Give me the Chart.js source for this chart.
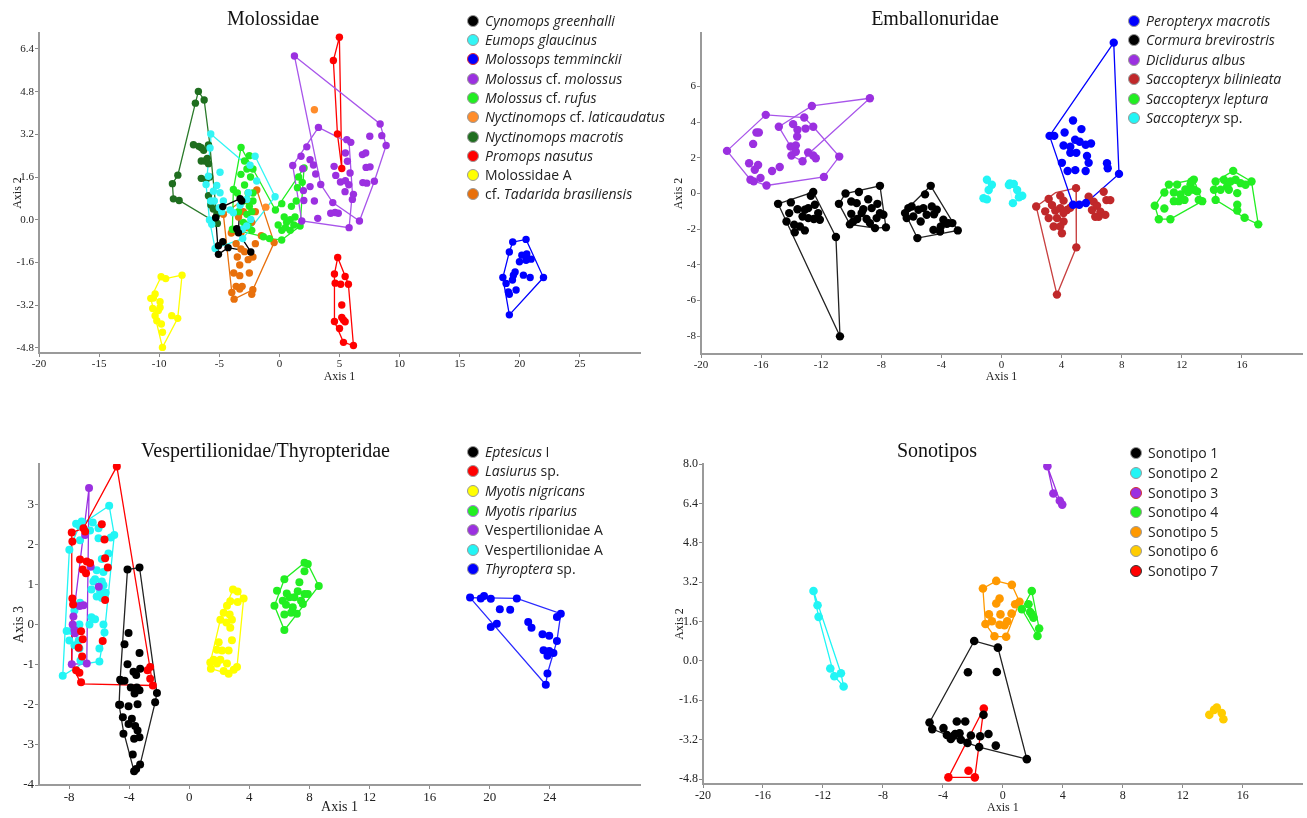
<!DOCTYPE html>
<html>
<head>
<meta charset="utf-8">
<script src="https://cdn.jsdelivr.net/npm/chart.js@4.4.0/dist/chart.umd.min.js"></script>
<style>
  body { margin: 0; background: #fff; width: 1307px; height: 818px; position: relative; overflow: hidden; }
  .ttl { position: absolute; font-family: "Liberation Serif", serif; font-size: 20px; line-height: 20px; white-space: nowrap; transform: translateX(-50%); color: #111; }
  .row { position: absolute; font-family: "Open Sans", sans-serif; font-size: 14px; line-height: 20px; height: 20px; white-space: nowrap; color: #222; }
  .dot { position: absolute; width: 12px; height: 12px; border-radius: 50%; box-sizing: border-box; border: 1px solid #999; }
</style>
</head>
<body>
<script>
// ---------- Molossidae (Axis 1 / Axis 2) ----------
const MOL_X_TICKS = [-20, -15, -10, -5, 0, 5, 10, 15, 20, 25];
const MOL_Y_TICKS = [-4.8, -3.2, -1.6, 0, 1.6, 3.2, 4.8, 6.4];
const MOL_LABELS = ['<i>Cynomops greenhalli</i>', '<i>Eumops glaucinus</i>', '<i>Molossops temminckii</i>',
  '<i>Molossus</i> cf. <i>molossus</i>', '<i>Molossus</i> cf. <i>rufus</i>', '<i>Nyctinomops</i> cf. <i>laticaudatus</i>',
  '<i>Nyctinomops macrotis</i>', '<i>Promops nasutus</i>', 'Molossidae A', 'cf. <i>Tadarida brasiliensis</i>'];

const MOL_CYN = [[-4.71,0.49],[-3.27,0.79],[-3.13,0.70],[-5.30,0.07],[-3.55,-0.34],[-3.41,-0.49],[-2.38,-1.21],[-5.07,-1.30],[-4.71,-0.83],[-4.27,-1.05],[-5.07,-0.98]];
const MOL_CYN_HULL = [[-4.71,0.49],[-3.27,0.79],[-3.41,-0.49],[-2.38,-1.21],[-4.27,-1.05],[-5.07,-1.30],[-5.30,0.07]];

const MOL_EUM = [[-5.71,3.21],[-5.77,2.69],[-4.94,1.78],[-5.91,1.63],[-6.1,1.32],[-5.21,1.28],[-5.49,1.07],[-4.94,1.01],[-5.71,0.70],[-5.41,0.70],[-4.66,0.70],[-4.10,0.36],[-5.63,-0.17],[-5.82,-0.01],[-5.35,-1.08],[-3.27,0.54],[-3.83,0.26],[-2.58,1.01],[-2.72,0.76],[-2.02,2.38],[-2.44,2.04],[-1.89,1.45],[-0.36,0.86],[-3.05,-0.71],[-3.08,-0.36],[-2.38,0.01],[-2.72,-0.24],[-5.0,0.45],[-4.8,0.3]];
const MOL_EUM_HULL = [[-5.71,3.21],[-3.2,2.25],[-2.02,2.38],[-0.36,0.86],[-3.05,-0.71],[-5.35,-1.08],[-5.82,-0.01],[-6.1,1.32],[-5.77,2.69]];

const MOL_TEM = [[19.41,-0.84],[20.52,-0.74],[19.13,-1.21],[20.17,-1.33],[20.58,-1.29],[20.94,-1.48],[19.97,-1.58],[20.52,-1.52],[19.61,-1.96],[19.47,-2.08],[20.3,-2.08],[20.86,-2.17],[18.59,-2.17],[21.97,-2.17],[18.86,-2.39],[19.39,-2.26],[19.69,-2.64],[19.05,-2.71],[19.13,-2.8],[19.13,-3.57]];
const MOL_TEM_HULL = [[19.41,-0.84],[20.52,-0.74],[21.97,-2.17],[19.13,-3.57],[18.59,-2.17],[19.13,-1.21]];

const MOL_MOL = [[1.25,6.14],[8.38,3.59],[8.52,3.15],[8.88,2.78],[7.52,3.13],[3.25,3.46],[5.61,3.0],[5.94,2.9],[2.28,2.73],[1.8,2.38],[2.55,2.25],[1.11,2.03],[1.94,1.91],[2.83,2.05],[5.49,2.5],[5.66,2.19],[5.88,1.75],[6.91,2.44],[7.18,2.5],[7.21,1.96],[7.54,1.98],[4.55,2.0],[4.69,1.66],[5.08,1.41],[5.49,1.46],[5.77,1.31],[6.94,1.39],[7.27,1.37],[7.9,1.44],[3.02,1.71],[2.55,1.24],[3.44,1.32],[2.0,1.09],[2.03,0.72],[5.46,1.05],[6.16,0.95],[6.07,0.76],[4.44,0.64],[2.91,0.7],[4.27,0.24],[4.63,0.27],[4.9,0.24],[3.19,0.05],[1.86,-0.05],[5.8,-0.3],[6.66,-0.05]];
const MOL_MOL_HULL_A = [[1.25,6.14],[8.38,3.59],[8.88,2.78],[7.9,1.44],[6.66,-0.05],[4.44,0.64],[3.44,1.32]];
const MOL_MOL_HULL_B = [[3.25,3.46],[5.8,2.88],[6.07,1.01],[5.8,-0.3],[1.86,-0.05],[1.11,2.03]];

const MOL_RUF = [[-3.19,2.71],[-2.9,2.2],[-2.5,2.4],[-2.7,1.9],[-3.2,1.7],[-2.4,1.6],[-2.9,1.3],[-3.5,1.0],[-3.83,1.13],[-2.6,1.0],[-2.2,1.0],[-3.0,0.7],[-2.5,0.5],[-3.4,0.3],[-2.7,0.2],[-2.3,0.3],[-3.0,-0.1],[-2.6,-0.2],[-3.91,-0.36],[-3.5,-0.4],[-2.3,-0.4],[-1.33,-0.64],[-2.2,1.9],[-2.2,0.7],
  [-0.83,-0.71],[0.19,-0.76],[-0.33,0.36],[0.2,0.6],[1.0,0.5],[1.4,0.7],[1.9,1.4],[2.05,1.94],[1.6,1.6],[1.72,-0.24],[1.2,-0.2],[0.9,0.0],[0.6,-0.1],[0.2,-0.4],[0.5,-0.3],[1.3,0.1],[-0.1,-0.2],[0.9,-0.4],[1.5,1.2],[0.4,0.1]];
const MOL_RUF_HULL = [[-3.19,2.71],[-2.2,1.9],[-0.33,0.36],[2.05,1.94],[1.72,-0.24],[0.19,-0.76],[-0.83,-0.71],[-1.33,-0.64],[-3.91,-0.36],[-3.83,1.13]];

const MOL_LAT = [[2.91,4.12],[-1.13,0.47]];

const MOL_MAC = [[-6.74,4.81],[-6.26,4.49],[-6.99,4.37],[-7.15,2.81],[-6.7,2.75],[-6.5,2.7],[-6.3,2.6],[-5.9,2.8],[-6.0,2.3],[-6.5,2.2],[-6.2,2.2],[-5.9,2.1],[-6.5,1.55],[-6.1,1.5],[-5.8,1.6],[-8.45,1.67],[-8.9,1.35],[-8.82,0.78],[-8.34,0.72],[-5.9,0.9],[-5.5,0.4],[-5.2,0.2],[-5.3,0.07],[-5.16,-0.14],[-5.7,0.55]];
const MOL_MAC_HULL = [[-6.74,4.81],[-6.26,4.49],[-5.82,2.94],[-5.16,-0.14],[-8.34,0.72],[-8.82,0.78],[-8.9,1.35],[-8.45,1.67],[-6.99,4.37]];

const MOL_NAS = [[4.99,6.84],[4.49,5.97],[4.83,3.21],[5.19,1.92],[4.85,-1.42],[4.58,-2.04],[4.64,-2.38],[5.1,-2.42],[5.47,-2.13],[5.74,-2.42],[5.19,-3.2],[4.58,-3.82],[5.33,-3.76],[5.47,-3.83],[5.0,-4.08],[5.33,-4.6],[6.16,-4.72],[5.19,-3.67]];
const MOL_NAS_HULL_TOP = [[4.99,6.84],[5.19,1.92],[4.83,3.21],[4.49,5.97]];
const MOL_NAS_HULL_LOW = [[4.85,-1.42],[5.74,-2.42],[6.16,-4.72],[5.33,-4.6],[4.58,-3.82],[4.58,-2.04]];

const MOL_A = [[-9.84,-2.14],[-9.46,-2.21],[-8.1,-2.08],[-10.34,-2.79],[-10.48,-2.94],[-10.7,-2.95],[-9.93,-3.08],[-10.54,-3.33],[-9.93,-3.29],[-10.34,-3.6],[-10.2,-3.79],[-9.82,-3.91],[-8.96,-3.6],[-8.46,-3.7],[-9.73,-4.22],[-9.73,-4.79],[-10.07,-3.41]];
const MOL_A_HULL = [[-9.84,-2.14],[-9.46,-2.21],[-8.1,-2.08],[-8.46,-3.7],[-9.73,-4.79],[-10.7,-2.95]];

const MOL_TAD = [[-4.66,0.2],[-1.88,1.11],[-2.6,0.7],[-3.4,0.1],[-3.2,-0.5],[-2.7,-0.3],[-2.3,-0.1],[-2.0,0.3],[-3.6,-0.9],[-3.2,-1.1],[-2.9,-1.2],[-3.5,-1.4],[-2.6,-1.5],[-3.3,-1.7],[-2.2,-1.4],[-3.8,-2.0],[-3.3,-2.1],[-2.5,-2.0],[-3.1,-2.5],[-3.6,-2.5],[-3.3,-2.6],[-2.21,-2.63],[-3.77,-2.98],[-3.96,-2.73],[-2.3,-2.8],[-0.44,-0.86],[-1.5,-0.6],[-2.0,-0.9],[-3.0,0.3],[-4.0,-0.5]];
const MOL_TAD_HULL = [[-4.66,0.2],[-1.88,1.11],[-0.44,-0.86],[-2.21,-2.63],[-3.77,-2.98],[-3.96,-2.73]];

// ---------- Emballonuridae ----------
const EMB_X_TICKS = [-20, -16, -12, -8, -4, 0, 4, 8, 12, 16];
const EMB_Y_TICKS = [-8, -6, -4, -2, 0, 2, 4, 6];
const EMB_LABELS = ['<i>Peropteryx macrotis</i>', '<i>Cormura brevirostris</i>', '<i>Diclidurus albus</i>',
  '<i>Saccopteryx bilinieata</i>', '<i>Saccopteryx leptura</i>', '<i>Saccopteryx</i> sp.'];

const EMB_PER = [[7.47,8.46],[3.2,3.23],[3.51,3.23],[4.76,4.09],[5.32,3.61],[4.2,3.42],[4.13,2.69],[4.9,3.01],[5.2,2.9],[5.6,2.73],[5.96,2.8],[4.58,2.62],[4.98,2.28],[4.58,2.28],[5.69,2.1],[5.8,1.72],[4.02,1.72],[4.4,1.26],[4.91,1.31],[5.6,1.26],[7.02,1.7],[7.07,1.42],[7.82,1.1],[4.76,-0.63],[5.18,-0.63],[5.62,-0.53]];
const EMB_PER_HULL = [[7.47,8.46],[7.82,1.1],[5.62,-0.53],[5.18,-0.63],[4.76,-0.63],[3.2,3.23]];

const EMB_COR = [[-14.87,-0.58],[-12.53,0.08],[-12.69,-0.13],[-14.02,-0.5],[-13.58,-0.88],[-14.13,-1.1],[-13.09,-0.91],[-13.24,-1.29],[-12.86,-0.82],[-12.42,-0.63],[-12.2,-1.1],[-12.49,-1.43],[-14.31,-1.57],[-13.8,-1.75],[-13.42,-1.85],[-13.76,-2.18],[-13.09,-2.07],[-12.09,-1.47],[-12.86,-1.38],[-11.02,-2.44],[-10.75,-8.01],
  [-10.82,-0.58],[-10.38,0.0],[-9.49,0.08],[-8.09,0.43],[-10.0,-0.45],[-9.64,-0.54],[-8.87,-0.32],[-9.2,-0.88],[-8.64,-0.82],[-8.26,-0.58],[-8.09,-1.1],[-10.0,-1.14],[-9.6,-1.43],[-9.87,-1.57],[-8.98,-1.43],[-8.31,-1.38],[-7.86,-1.19],[-10.09,-1.73],[-8.42,-1.94],[-7.69,-1.9],[-8.76,-1.66],[-9.31,-1.1],
  [-4.71,0.43],[-5.09,-0.05],[-6.42,-1.1],[-5.6,-2.5],[-2.91,-2.07],[-3.27,-1.66],[-6.2,-0.82],[-5.98,-0.73],[-5.53,-0.91],[-5.2,-0.82],[-4.64,-0.73],[-4.31,-0.91],[-4.49,-1.16],[-4.98,-1.19],[-5.87,-1.29],[-5.38,-1.57],[-6.31,-1.38],[-3.87,-1.47],[-3.64,-1.7],[-4.04,-1.85],[-4.53,-2.04],[-4.09,-2.13],[-3.53,-1.66]];
const EMB_COR_HULL_1 = [[-14.87,-0.58],[-12.53,0.08],[-11.02,-2.44],[-10.75,-8.01]];
const EMB_COR_HULL_2 = [[-10.82,-0.58],[-10.38,0.0],[-8.09,0.43],[-7.69,-1.9],[-8.42,-1.94],[-10.09,-1.73]];
const EMB_COR_HULL_3 = [[-4.71,0.43],[-2.91,-2.07],[-5.6,-2.5],[-6.42,-1.1],[-6.2,-0.8]];

const EMB_DIC = [[-18.27,2.39],[-15.69,4.41],[-16.31,3.42],[-16.15,3.42],[-16.53,2.78],[-16.8,1.70],[-16.2,1.60],[-16.42,1.33],[-16.71,0.77],[-16.49,0.68],[-16.04,0.87],[-15.64,0.45],[-15.27,1.26],[-14.76,1.49],[-14.82,3.74],[-13.87,3.89],[-13.13,4.26],[-12.62,4.91],[-8.76,5.34],[-13.58,3.57],[-13.6,3.2],[-14.04,2.64],[-13.69,2.70],[-13.98,2.13],[-13.69,2.34],[-13.24,1.81],[-13.04,3.64],[-12.53,3.74],[-12.87,2.30],[-12.53,2.13],[-12.36,1.98],[-10.8,2.07],[-11.82,0.93]];
const EMB_DIC_HULL_A = [[-18.27,2.39],[-15.69,4.41],[-13.13,4.26],[-12.53,3.74],[-10.8,2.07],[-11.82,0.93],[-15.64,0.45],[-16.71,0.77]];
const EMB_DIC_HULL_B = [[-14.82,3.74],[-12.62,4.91],[-8.76,5.34],[-12.87,2.2],[-13.24,1.81],[-13.98,2.13],[-14.04,2.64]];

const EMB_BIL = [[2.31,-0.73],[3.69,-5.67],[4.98,-3.02],[4.96,0.3],[3.14,-0.31],[3.91,-0.12],[4.13,-0.4],[3.36,-0.65],[3.91,-0.83],[4.36,-0.92],[2.91,-1.0],[3.58,-0.95],[4.13,-1.1],[3.14,-1.38],[3.69,-1.38],[4.13,-1.57],[3.47,-1.85],[4.02,-2.23],[3.91,-1.85],[4.58,-0.8],[5.8,-0.18],[6.13,-0.46],[6.02,-0.93],[6.36,-0.69],[6.58,-1.02],[6.8,0.1],[6.98,-0.37],[7.24,-0.37],[6.47,-1.3],[6.24,-1.3],[6.91,-1.2]];
const EMB_BIL_HULL = [[2.31,-0.73],[3.6,0.05],[4.96,0.3],[4.98,-3.02],[3.69,-5.67]];

const EMB_LEP = [[10.2,-0.69],[10.47,-1.44],[11.24,-1.44],[11.14,0.5],[12.8,0.78],[13.36,-0.43],[10.84,0.06],[10.84,-0.84],[11.47,0.06],[11.69,0.5],[11.91,-0.05],[12.24,0.23],[12.58,0.5],[12.64,0.68],[13.02,0.12],[13.13,-0.36],[11.8,-0.43],[12.18,-0.36],[11.47,-0.43],[12.8,0.21],[12.42,0.08],
  [14.25,0.67],[15.42,1.27],[16.64,0.67],[17.09,-1.73],[16.18,-1.36],[14.25,-0.36],[14.8,0.77],[15.02,0.39],[15.24,0.67],[15.58,0.77],[15.91,0.58],[16.24,0.49],[14.58,0.21],[14.14,0.21],[15.13,0.21],[15.69,0.02],[15.69,-0.63],[15.69,-0.95]];
const EMB_LEP_HULL_1 = [[10.2,-0.69],[11.14,0.5],[12.8,0.78],[13.36,-0.43],[11.24,-1.44],[10.47,-1.44]];
const EMB_LEP_HULL_2 = [[14.25,0.67],[15.42,1.27],[16.64,0.67],[17.09,-1.73],[16.18,-1.36],[14.25,-0.36]];

const EMB_SP = [[-0.97,0.77],[-0.64,0.49],[-1.2,-0.27],[-0.97,-0.33],[-0.85,0.2],[0.56,0.57],[0.82,0.53],[1.04,0.2],[1.38,-0.13],[1.16,-0.21],[0.76,-0.54],[0.49,0.48]];
const EMB_SP_HULL_1 = [[-0.97,0.77],[-0.64,0.49],[-0.97,-0.33],[-1.2,-0.27]];
const EMB_SP_HULL_2 = [[0.49,0.57],[0.82,0.53],[1.38,-0.13],[0.76,-0.54]];

// ---------- Vespertilionidae/Thyropteridae (Axis 1 / Axis 3) ----------
const VES_X_TICKS = [-8, -4, 0, 4, 8, 12, 16, 20, 24];
const VES_Y_TICKS = [-4, -3, -2, -1, 0, 1, 2, 3];
const VES_LABELS = ['<i>Eptesicus</i> I', '<i>Lasiurus</i> sp.', '<i>Myotis nigricans</i>', '<i>Myotis riparius</i>',
  'Vespertilionidae A', 'Vespertilionidae A', '<i>Thyroptera</i> sp.'];

const VES_EPT = [[-4.11,1.37],[-3.31,1.42],[-4.04,-0.21],[-4.31,-0.49],[-3.31,-0.71],[-4.11,-0.99],[-3.71,-1.18],[-3.27,-1.1],[-3.53,-1.26],[-4.6,-1.38],[-4.31,-1.4],[-3.89,-1.57],[-3.49,-1.57],[-3.31,-1.64],[-3.64,-1.72],[-2.15,-1.71],[-2.27,-1.94],[-4.6,-2.0],[-4.04,-2.04],[-3.44,-1.99],[-4.42,-2.31],[-3.82,-2.35],[-4.04,-2.48],[-3.6,-2.53],[-3.44,-2.64],[-3.31,-2.81],[-3.67,-2.85],[-4.38,-2.72],[-3.76,-3.24],[-3.27,-3.49],[-3.67,-3.66],[-3.53,-3.6],[-4.67,-2.0],[-4.53,-1.4]];
const VES_EPT_HULL = [[-4.11,1.37],[-3.31,1.42],[-2.15,-1.71],[-2.27,-1.94],[-3.27,-3.49],[-3.67,-3.66],[-4.38,-2.66],[-4.67,-2.0],[-4.6,-1.38]];

const VES_LAS = [[-4.82,3.94],[-7.82,2.29],[-7.78,2.07],[-7.04,2.4],[-5.82,2.5],[-5.64,2.12],[-7.27,1.62],[-6.82,1.57],[-6.6,1.53],[-7.09,1.37],[-6.87,1.28],[-5.6,1.65],[-5.42,1.42],[-7.78,0.65],[-7.73,0.5],[-7.2,-0.17],[-7.09,-0.37],[-5.76,-0.41],[-7.36,-0.58],[-7.13,-0.8],[-7.53,-1.14],[-7.31,-1.2],[-7.2,-1.44],[-2.6,-1.06],[-2.78,-1.14],[-2.6,-1.35],[-2.42,-1.52],[-6.93,2.32],[-5.6,0.61]];
const VES_LAS_HULL = [[-4.82,3.94],[-2.42,-1.52],[-7.2,-1.48],[-7.82,-1.0],[-7.82,2.29],[-7.04,2.4]];

const VES_NIG = [[2.91,0.87],[3.22,0.82],[3.62,0.65],[3.22,0.56],[2.73,0.58],[2.51,0.47],[2.29,0.29],[2.69,0.25],[2.07,0.12],[2.47,0.05],[2.84,0.12],[2.73,-0.08],[1.96,-0.44],[2.84,-0.39],[1.84,-0.63],[2.18,-0.65],[2.62,-0.65],[1.62,-0.88],[2.07,-0.88],[2.51,-0.97],[1.4,-0.95],[1.44,-1.1],[2.29,-1.16],[2.62,-1.23],[2.96,-1.13],[3.18,-1.06],[1.84,-0.97]];
const VES_NIG_HULL = [[2.91,0.87],[3.22,0.82],[3.62,0.65],[3.18,-1.06],[2.62,-1.23],[1.44,-1.1],[1.4,-0.95],[2.07,0.12]];

const VES_RIP = [[7.67,1.54],[7.89,1.51],[7.67,1.33],[8.62,0.96],[6.33,1.13],[5.84,0.84],[5.67,0.47],[6.33,-0.14],[6.49,0.77],[7.33,1.05],[7.22,0.83],[6.67,0.68],[7.0,0.68],[6.22,0.59],[6.44,0.49],[6.89,0.43],[7.44,0.59],[7.67,0.76],[7.89,0.76],[7.56,0.51],[6.33,0.25],[6.78,0.29],[7.16,0.27]];
const VES_RIP_HULL = [[7.67,1.54],[7.89,1.51],[8.62,0.96],[6.33,-0.14],[5.67,0.47],[6.33,1.13]];

const VES_VA1 = [[-6.67,3.4],[-6.93,2.23],[-6.56,1.44],[-6.02,0.94],[-7.29,0.46],[-7.04,0.48],[-7.71,0.2],[-7.76,0.0],[-7.64,-0.14],[-7.6,-0.22],[-7.82,-0.99],[-6.82,-0.97]];
const VES_VA1_HULL = [[-6.67,3.4],[-6.82,-0.97],[-7.82,-0.99],[-7.76,0.0],[-7.71,0.2]];

const VES_VA2 = [[-5.33,2.96],[-7.16,2.57],[-7.53,2.51],[-7.31,2.46],[-6.42,2.54],[-6.6,2.34],[-6.04,2.4],[-6.04,2.15],[-4.99,2.23],[-5.22,2.17],[-7.98,1.86],[-7.27,2.1],[-5.38,1.77],[-5.82,1.63],[-6.16,1.35],[-5.71,1.31],[-6.27,1.13],[-6.38,1.07],[-5.82,1.07],[-5.71,0.98],[-6.51,0.87],[-5.93,0.83],[-5.56,0.79],[-6.16,0.7],[-5.82,0.66],[-7.27,0.54],[-7.64,0.35],[-7.31,0.0],[-6.51,0.18],[-6.27,0.13],[-6.64,0.0],[-5.71,0.0],[-8.16,-0.16],[-7.82,-0.16],[-8.42,-1.28],[-7.64,-0.52],[-7.31,-0.6],[-5.98,-0.6],[-7.36,-0.4],[-5.64,-0.2],[-5.98,-0.92],[-7.24,-0.9],[-7.98,-0.4]];
const VES_VA2_HULL = [[-5.33,2.96],[-4.99,2.23],[-5.64,-0.2],[-5.98,-0.92],[-7.24,-1.0],[-8.42,-1.28],[-7.98,1.86],[-7.31,2.46]];

const VES_THY = [[18.69,0.67],[19.4,0.65],[19.62,0.71],[20.07,0.64],[21.8,0.65],[20.67,0.38],[21.36,0.37],[20.47,0.02],[20.07,-0.06],[22.56,0.06],[22.78,-0.08],[23.51,-0.24],[23.96,-0.28],[24.73,0.27],[24.47,0.19],[24.47,-0.41],[23.58,-0.64],[23.96,-0.66],[24.24,-0.71],[23.84,-0.78],[23.84,-1.22],[23.73,-1.5]];
const VES_THY_HULL = [[18.69,0.67],[21.8,0.65],[24.73,0.27],[24.47,-0.41],[23.84,-1.22],[23.73,-1.5]];

// ---------- Sonotipos ----------
const SON_X_TICKS = [-20, -16, -12, -8, -4, 0, 4, 8, 12, 16];
const SON_Y_TICKS = [-4.8, -3.2, -1.6, 0, 1.6, 3.2, 4.8, 6.4, 8.0];
const SON_LABELS = ['Sonotipo 1', 'Sonotipo 2', 'Sonotipo 3', 'Sonotipo 4', 'Sonotipo 5', 'Sonotipo 6', 'Sonotipo 7'];

const SON_1 = [[-4.89,-2.5],[-4.71,-2.77],[-3.96,-2.73],[-3.73,-3.01],[-3.47,-3.17],[-3.18,-2.97],[-2.89,-2.94],[-2.8,-3.2],[-3.07,-2.46],[-2.51,-2.46],[-2.36,-3.33],[-2.13,-3.03],[-2.33,-0.46],[-1.91,0.81],[-0.33,0.54],[-0.4,-0.45],[-1.51,-3.06],[-0.96,-2.97],[-1.58,-3.5],[-0.47,-3.44],[-1.29,-2.19],[1.6,-3.99],[-3.3,-3.05]];
const SON_1_HULL = [[-4.89,-2.5],[-1.91,0.81],[-0.33,0.54],[1.6,-3.99],[-1.58,-3.5],[-2.36,-3.33],[-4.71,-2.77]];
const SON_2 = [[-12.63,2.84],[-12.36,2.26],[-12.29,1.79],[-11.51,-0.31],[-11.24,-0.62],[-10.8,-0.5],[-10.62,-1.04]];
const SON_2_HULL = [[-12.63,2.84],[-10.8,-0.5],[-10.62,-1.04],[-11.24,-0.62],[-12.29,1.79]];
const SON_3 = [[2.97,7.91],[3.37,6.8],[3.8,6.51],[3.96,6.35]];
const SON_3_HULL = [[2.97,7.91],[3.8,6.51],[3.96,6.35],[3.37,6.8]];
const SON_4 = [[1.27,2.1],[1.93,2.84],[1.71,2.3],[1.82,1.99],[1.93,1.89],[2.04,1.76],[2.42,1.32],[2.31,1.01]];
const SON_4_HULL = [[1.93,2.84],[2.42,1.32],[2.31,1.01],[1.27,2.1]];
const SON_5 = [[-1.33,2.94],[-0.44,3.25],[0.6,3.09],[1.11,2.4],[0.82,2.3],[-0.22,2.53],[-0.44,2.33],[-0.93,1.89],[-0.16,1.89],[0.58,1.92],[-1.16,1.5],[-0.73,1.61],[-0.22,1.47],[0.29,1.61],[0.11,1.45],[-0.56,1.0],[0.22,0.98]];
const SON_5_HULL = [[-1.33,2.94],[-0.44,3.25],[0.6,3.09],[1.11,2.4],[0.22,0.98],[-0.56,1.0],[-1.16,1.5]];
const SON_6 = [[13.77,-2.19],[14.27,-1.89],[14.09,-1.99],[14.6,-2.12],[14.71,-2.37]];
const SON_7 = [[-1.27,-1.93],[-2.29,-4.46],[-1.87,-4.73],[-3.63,-4.73]];
const SON_7_HULL = [[-1.27,-1.93],[-1.87,-4.73],[-3.63,-4.73]];

// ---------- panels ----------
const PANELS = [
  {
    title: 'Molossidae', tx: 273, ty: 8,
    box: {l: 0, t: 0, w: 650, h: 390, pt: 33, pr: 10, wy: 39, hx: 37, ytp: 11, xtp: 6},
    xr: [-20, 30], yr: [-5, 7], xt: MOL_X_TICKS, yt: MOL_Y_TICKS, dec: 1, fs: 11, afs: 12,
    xl: 'Axis 1', yl: 'Axis 2', r: 3.7,
    lg: {dx: 473, tx: 485, y0: 20.7, dy: 19.3},
    groups: [
      {label: MOL_LABELS[0], color: '#000000', pts: MOL_CYN, hulls: [MOL_CYN_HULL]},
      {label: MOL_LABELS[1], color: '#33f5f5', pts: MOL_EUM, hulls: [MOL_EUM_HULL]},
      {label: MOL_LABELS[2], color: '#0000ff', edge: '#e03030', pts: MOL_TEM, hulls: [MOL_TEM_HULL]},
      {label: MOL_LABELS[3], color: '#9b30e0', line: '#a855ea', pts: MOL_MOL, hulls: [MOL_MOL_HULL_A, MOL_MOL_HULL_B]},
      {label: MOL_LABELS[4], color: '#22ee22', pts: MOL_RUF, hulls: [MOL_RUF_HULL]},
      {label: MOL_LABELS[5], color: '#ff8c2a', pts: MOL_LAT, hulls: []},
      {label: MOL_LABELS[6], color: '#1f6e1f', line: '#2a7a2a', pts: MOL_MAC, hulls: [MOL_MAC_HULL]},
      {label: MOL_LABELS[7], color: '#ff0000', pts: MOL_NAS, hulls: [MOL_NAS_HULL_TOP, MOL_NAS_HULL_LOW]},
      {label: MOL_LABELS[8], color: '#ffff00', pts: MOL_A, hulls: [MOL_A_HULL]},
      {label: MOL_LABELS[9], color: '#e8700c', pts: MOL_TAD, hulls: [MOL_TAD_HULL]}
    ]
  },
  {
    title: 'Emballonuridae', tx: 935, ty: 8,
    box: {l: 655, t: 0, w: 652, h: 390, pt: 33, pr: 5, wy: 46, hx: 36, ytp: 17, xtp: 6},
    xr: [-20, 20], yr: [-9, 9], xt: EMB_X_TICKS, yt: EMB_Y_TICKS, dec: 0, fs: 11, afs: 12,
    xl: 'Axis 1', yl: 'Axis 2', r: 4.2,
    lg: {dx: 1134, tx: 1146, y0: 20.7, dy: 19.5},
    groups: [
      {label: EMB_LABELS[0], color: '#0000ff', pts: EMB_PER, hulls: [EMB_PER_HULL]},
      {label: EMB_LABELS[1], color: '#000000', line: '#222', pts: EMB_COR, hulls: [EMB_COR_HULL_1, EMB_COR_HULL_2, EMB_COR_HULL_3]},
      {label: EMB_LABELS[2], color: '#9b30e0', line: '#a855ea', pts: EMB_DIC, hulls: [EMB_DIC_HULL_A, EMB_DIC_HULL_B]},
      {label: EMB_LABELS[3], color: '#c0282a', line: '#c84040', pts: EMB_BIL, hulls: [EMB_BIL_HULL]},
      {label: EMB_LABELS[4], color: '#22ee22', pts: EMB_LEP, hulls: [EMB_LEP_HULL_1, EMB_LEP_HULL_2]},
      {label: EMB_LABELS[5], color: '#22f5f5', line: '#d8ffff', pts: EMB_SP, hulls: [EMB_SP_HULL_1, EMB_SP_HULL_2]}
    ]
  },
  {
    title: 'Vespertilionidae/Thyropteridae', tx: 265.5, ty: 439.5,
    box: {l: 0, t: 430, w: 650, h: 388, pt: 34, pr: 10, wy: 39, hx: 33, ytp: 11, xtp: 2},
    xr: [-10, 30], yr: [-4, 4], xt: VES_X_TICKS, yt: VES_Y_TICKS, dec: 0, fs: 13, afs: 14,
    xl: 'Axis 1', yl: 'Axis 3', r: 4,
    lg: {dx: 473, tx: 485, y0: 451.7, dy: 19.6},
    groups: [
      {label: VES_LABELS[0], color: '#000000', line: '#222', pts: VES_EPT, hulls: [VES_EPT_HULL]},
      {label: VES_LABELS[1], color: '#ff0000', pts: VES_LAS, hulls: [VES_LAS_HULL]},
      {label: VES_LABELS[2], color: '#ffff00', pts: VES_NIG, hulls: [VES_NIG_HULL]},
      {label: VES_LABELS[3], color: '#22ee22', edge: '#b070e0', pts: VES_RIP, hulls: [VES_RIP_HULL]},
      {label: VES_LABELS[4], color: '#9b30e0', pts: VES_VA1, hulls: [VES_VA1_HULL]},
      {label: VES_LABELS[5], color: '#22f5f5', pts: VES_VA2, hulls: [VES_VA2_HULL]},
      {label: VES_LABELS[6], color: '#0000ff', line: '#2a2aff', pts: VES_THY, hulls: [VES_THY_HULL]}
    ]
  },
  {
    title: 'Sonotipos', tx: 937, ty: 439.5,
    box: {l: 655, t: 430, w: 652, h: 388, pt: 34, pr: 4, wy: 48, hx: 34, ytp: 18, xtp: 3},
    xr: [-20, 20], yr: [-5, 8], xt: SON_X_TICKS, yt: SON_Y_TICKS, dec: 1, fs: 12, afs: 12,
    xl: 'Axis 1', yl: 'Axis 2', r: 4.3,
    lg: {dx: 1136, tx: 1148, y0: 453.3, dy: 19.6},
    groups: [
      {label: SON_LABELS[0], color: '#000000', line: '#222', pts: SON_1, hulls: [SON_1_HULL]},
      {label: SON_LABELS[1], color: '#22f5f5', pts: SON_2, hulls: [SON_2_HULL]},
      {label: SON_LABELS[2], color: '#9b30e0', edge: '#d03030', pts: SON_3, hulls: [SON_3_HULL]},
      {label: SON_LABELS[3], color: '#22ee22', pts: SON_4, hulls: [SON_4_HULL]},
      {label: SON_LABELS[4], color: '#ff9900', pts: SON_5, hulls: [SON_5_HULL]},
      {label: SON_LABELS[5], color: '#ffcc00', pts: SON_6, hulls: []},
      {label: SON_LABELS[6], color: '#ff0000', edge: '#333', pts: SON_7, hulls: [SON_7_HULL]}
    ]
  }
];

const serif = 'Liberation Serif';
const xy = arr => arr.map(p => ({x: p[0], y: p[1]}));

function makeAxis(range, ticks, dec, fs, afs, label, b, vertical) {
  return {
    type: 'linear', min: range[0], max: range[1],
    afterBuildTicks: s => { s.ticks = ticks.map(v => ({value: v})); },
    afterFit: s => { if (vertical) s.width = b.wy; else s.height = b.hx; },
    grid: {drawOnChartArea: false, drawTicks: true, tickLength: 4, color: '#8a8a8a', lineWidth: 1},
    border: {display: true, color: '#9a9a9a', width: 2},
    ticks: {
      font: {family: serif, size: fs}, color: '#222', padding: 1,
      maxRotation: 0, autoSkip: false,
      callback: v => Number(v).toFixed(dec)
    },
    title: {
      display: true, text: label, color: '#222',
      font: {family: serif, size: afs},
      padding: vertical ? {top: b.ytp, bottom: 0} : {top: 0, bottom: b.xtp}
    }
  };
}

PANELS.forEach(p => {
  const b = p.box;
  const cv = document.createElement('canvas');
  cv.width = b.w; cv.height = b.h;
  cv.style.cssText = `position:absolute;left:${b.l}px;top:${b.t}px;width:${b.w}px;height:${b.h}px`;
  document.body.appendChild(cv);

  const datasets = [];
  p.groups.forEach(g => {
    g.hulls.forEach(h => datasets.push({
      data: xy(h.concat([h[0]])), showLine: true, borderColor: g.line || g.color,
      borderWidth: 1.3, pointRadius: 0, fill: false, tension: 0, order: 1
    }));
    datasets.push({
      data: xy(g.pts), showLine: false, pointRadius: p.r, pointHoverRadius: p.r,
      backgroundColor: g.color, borderColor: g.color, borderWidth: 0, order: 0
    });
  });

  new Chart(cv, {
    type: 'scatter',
    data: {datasets},
    options: {
      responsive: false, animation: false,
      layout: {padding: {top: b.pt, right: b.pr, left: 0, bottom: 0}},
      plugins: {legend: {display: false}, tooltip: {enabled: false}},
      scales: {
        x: makeAxis(p.xr, p.xt, 0, p.fs, p.afs, p.xl, b, false),
        y: makeAxis(p.yr, p.yt, p.dec, p.fs, p.afs, p.yl, b, true)
      }
    }
  });

  const t = document.createElement('div');
  t.className = 'ttl';
  t.style.left = p.tx + 'px'; t.style.top = p.ty + 'px';
  t.textContent = p.title;
  document.body.appendChild(t);

  p.groups.forEach((g, i) => {
    const y = p.lg.y0 + i * p.lg.dy;
    const d = document.createElement('div');
    d.className = 'dot';
    d.style.left = (p.lg.dx - 6) + 'px'; d.style.top = (y - 6) + 'px';
    d.style.background = g.color;
    if (g.edge) d.style.borderColor = g.edge;
    document.body.appendChild(d);
    const r = document.createElement('div');
    r.className = 'row';
    r.style.left = p.lg.tx + 'px'; r.style.top = (y - 10) + 'px';
    r.innerHTML = g.label;
    document.body.appendChild(r);
  });
});
</script>
</body>
</html>
